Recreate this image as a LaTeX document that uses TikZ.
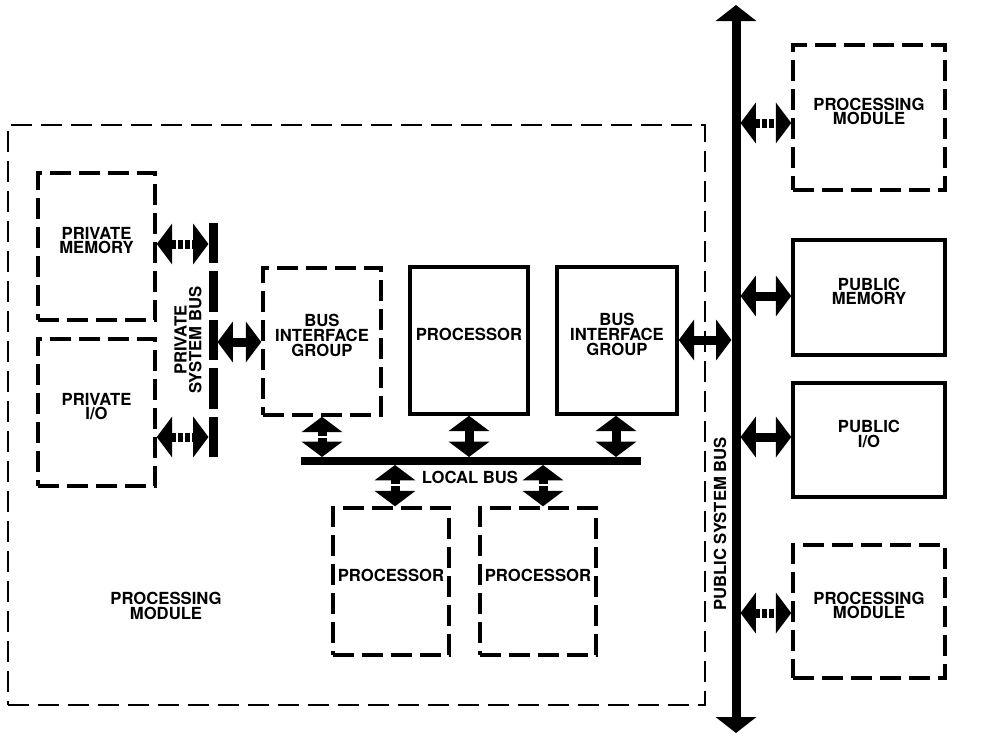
\documentclass[tikz,border=0pt]{standalone}
\usepackage{fontspec}
\setmainfont{TeX Gyre Heros}
\usetikzlibrary{arrows.meta,fit,calc}
\begin{document}
\begin{tikzpicture}[x=0.75pt,y=-0.75pt,
  lbl/.style={font=\fontsize{12.5}{11}\selectfont\bfseries, align=center},
  dbox/.style={draw, line width=2.6pt, dash pattern=on 15.75pt off 6pt, inner sep=0pt, lbl},
  sbox/.style={draw, line width=2.6pt, inner sep=0pt, lbl},
  outerbox/.style={draw, line width=1.1pt, dash pattern=on 15.75pt off 6.75pt, inner sep=0pt},
  bighead/.tip={Triangle[width=30pt,length=11.5pt]},
  darr/.style={line width=6.75pt, {bighead}-{bighead}},
  darrd/.style={darr, dash pattern=on 3.75pt off 1.5pt},
  ghost/.style={inner sep=0pt, outer sep=0pt}
]
\useasboundingbox (0,0) rectangle (992,736);

% outer processing module
\node[outerbox, fit={(8,125)(705,705)}] (outer) {};
\node[lbl] (pmlbl) at (166,606) {PROCESSING\\MODULE};

% private side
\node[dbox, fit={(38,173)(155,320)}] (pmem) {PRIVATE\\MEMORY};
\node[dbox, fit={(38,339)(155,486)}] (pio) {PRIVATE\\I/O};
\node[ghost, minimum width=6.75pt, minimum height=175.5pt] (pbus) at (213,340) {};
\draw[line width=6.75pt, dash pattern=on 30.3pt off 6pt] (pbus.north) -- (pbus.south);
\node[lbl, rotate=90] (pslbl) at (188,340) {PRIVATE\\SYSTEM BUS};

% processing module internals
\node[dbox, fit={(263,268)(381,415)}] (big1) {BUS\\INTERFACE\\GROUP};
\node[sbox, fit={(410,267)(528,414)}] (proc) {PROCESSOR};
\node[sbox, fit={(557,267)(677,414)}] (big2) {BUS\\INTERFACE\\GROUP};
\node[ghost, fill, minimum width=255pt, minimum height=6pt] (lbus) at (471,461) {};
\node[lbl] (lbuslbl) at (470,477) {LOCAL BUS};
\node[dbox, fit={(333,508)(449,655)}] (proc2) {PROCESSOR};
\node[dbox, fit={(480,508)(596,655)}] (proc3) {PROCESSOR};

% public side
\node[ghost, minimum width=6.75pt, minimum height=546pt] (pubbus) at (736,369) {};
\draw[line width=6.75pt, {Triangle[width=30pt,length=12pt]}-{Triangle[width=30pt,length=12pt]}] (pubbus.north) -- (pubbus.south);
\node[lbl, rotate=90] (publbl) at (720,524) {PUBLIC SYSTEM BUS};
\node[dbox, fit={(793,45)(945,190)}] (pm1) {PROCESSING\\MODULE};
\node[sbox, fit={(793,240)(945,355)}] (pubmem) {PUBLIC\\MEMORY};
\node[sbox, fit={(793,383)(945,497)}] (pubio) {PUBLIC\\I/O};
\node[dbox, fit={(793,545)(945,678)}] (pm2) {PROCESSING\\MODULE};

% connectors: private bus
\draw[darrd] (pmem.east |- 0,244) -- (pbus.west |- 0,244);
\draw[darrd] (pio.east |- 0,437) -- (pbus.west |- 0,437);
\draw[darr] (pbus.east |- 0,342) -- (big1.west |- 0,342);

% connectors: local bus
\draw[darrd] (big1.south -| 322,0) -- (lbus.north -| 322,0);
\draw[darr] (proc.south -| 469,0) -- (lbus.north -| 469,0);
\draw[darr] (big2.south -| 616,0) -- (lbus.north -| 616,0);
\draw[darrd] (lbus.south -| 395,0) -- (proc2.north -| 395,0);
\draw[darrd] (lbus.south -| 543,0) -- (proc3.north -| 543,0);

% connectors: public bus
\draw[darr] (big2.east |- 0,340) -- (pubbus.west |- 0,340);
\draw[darrd] (pubbus.east |- 0,123) -- (pm1.west |- 0,123);
\draw[darr] (pubbus.east |- 0,296) -- (pubmem.west |- 0,296);
\draw[darr] (pubbus.east |- 0,437) -- (pubio.west |- 0,437);
\draw[darrd] (pubbus.east |- 0,613) -- (pm2.west |- 0,613);
\end{tikzpicture}
\end{document}
